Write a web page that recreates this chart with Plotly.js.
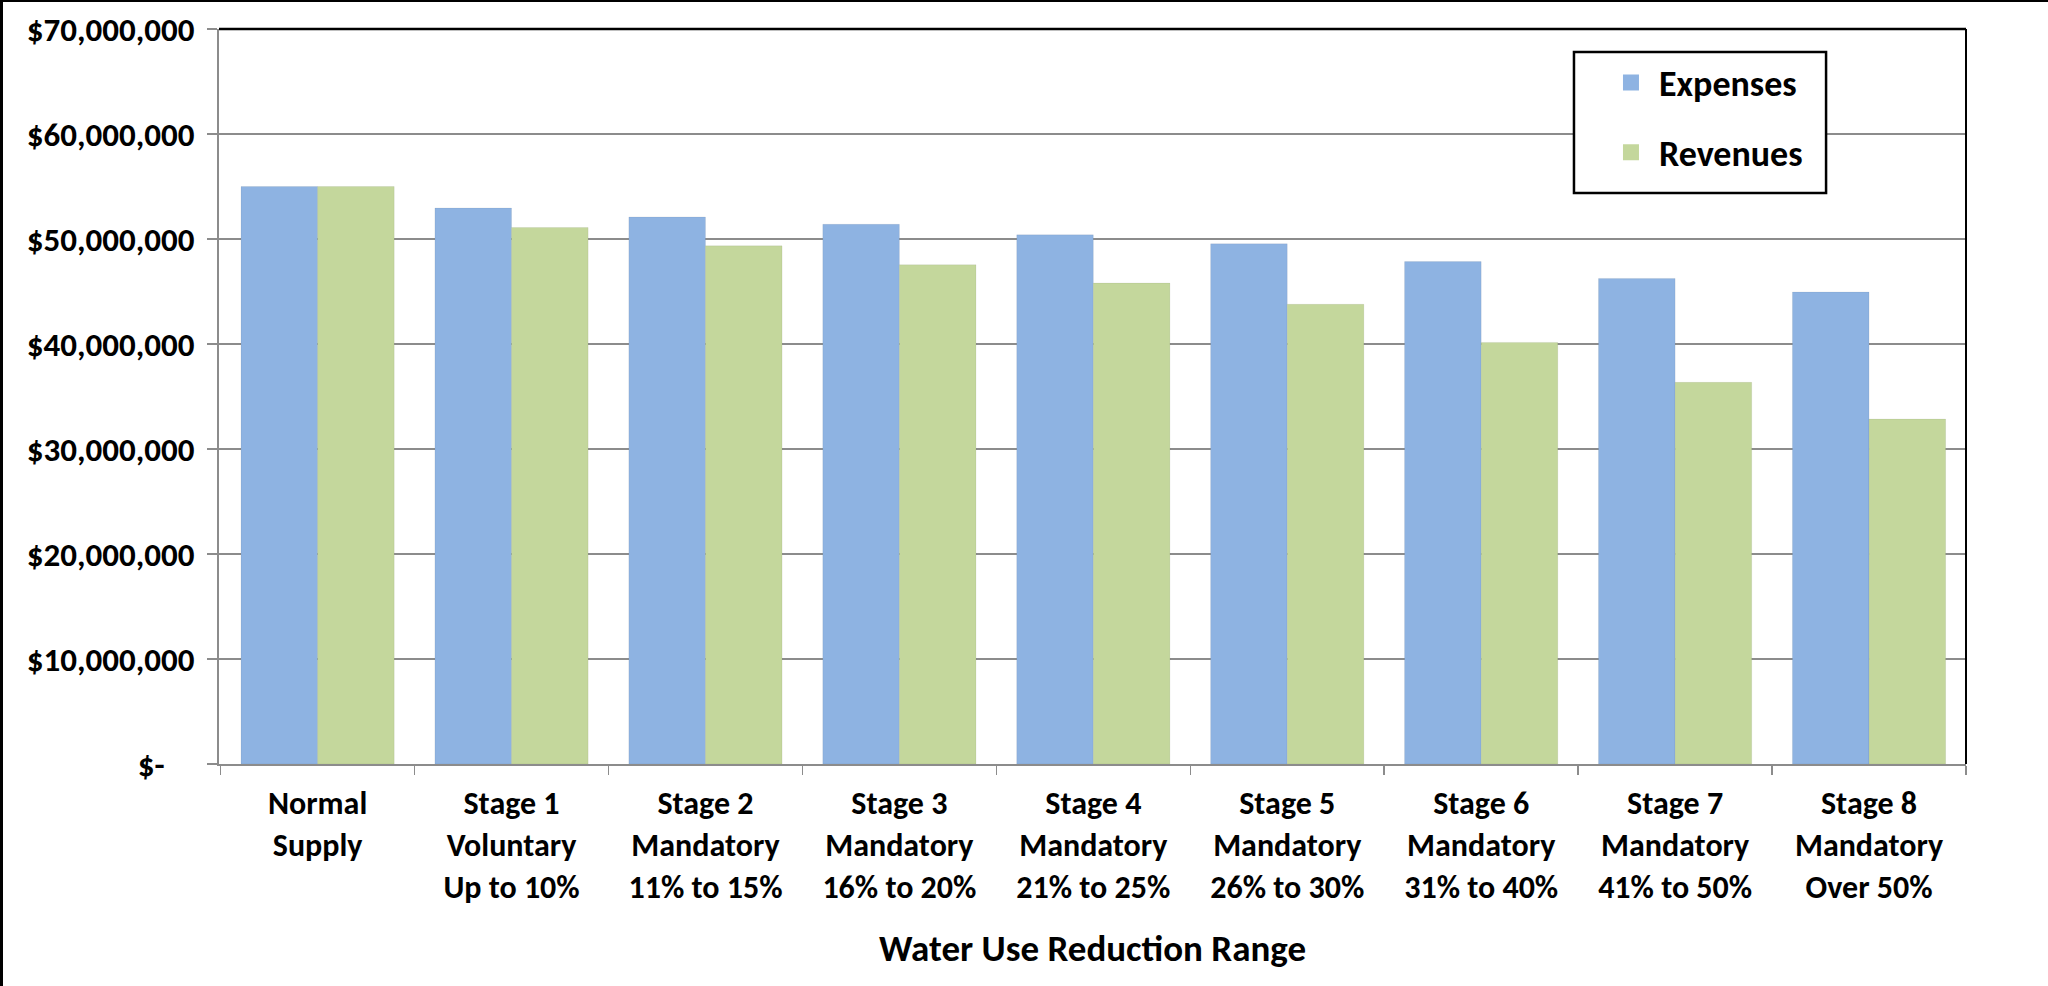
<!DOCTYPE html>
<html>
<head>
<meta charset="utf-8">
<script src="https://cdn.plot.ly/plotly-3.0.1.min.js"></script>
<style>
  html, body { margin: 0; padding: 0; background: #fff; }
  #wrap { position: relative; width: 2048px; height: 986px; }
  #chart { position: absolute; left: 0; top: 0; width: 2048px; height: 986px; }
  #frame { position: absolute; left: 0; top: 0; width: 2048px; height: 986px; box-sizing: border-box;
           border-left: 3px solid #000; border-top: 2px solid #000; pointer-events: none; }
</style>
</head>
<body>
<div id="wrap">
  <div id="chart"></div>
  <div id="frame"></div>
</div>
<script>
const categories = [
  "Normal<br>Supply",
  "Stage 1<br>Voluntary<br>Up to 10%",
  "Stage 2<br>Mandatory<br>11% to 15%",
  "Stage 3<br>Mandatory<br>16% to 20%",
  "Stage 4<br>Mandatory<br>21% to 25%",
  "Stage 5<br>Mandatory<br>26% to 30%",
  "Stage 6<br>Mandatory<br>31% to 40%",
  "Stage 7<br>Mandatory<br>41% to 50%",
  "Stage 8<br>Mandatory<br>Over 50%"
];
const expenses = [55000000, 52950000, 52100000, 51400000, 50400000, 49550000, 47850000, 46250000, 44950000];
const revenues = [55000000, 51100000, 49350000, 47550000, 45800000, 43780000, 40150000, 36350000, 32850000];
const yTickVals = [0, 10000000, 20000000, 30000000, 40000000, 50000000, 60000000, 70000000];
const yTickText = ["$-\u00a0\u00a0\u00a0\u00a0", "$10,000,000", "$20,000,000", "$30,000,000", "$40,000,000", "$50,000,000", "$60,000,000", "$70,000,000"];
const seriesNames = ["Expenses", "Revenues"];
const seriesColors = ["#8EB3E2", "#C4D79C"];
const xTitle = "Water Use Reduction Range";

const FONT = "Carlito, Lato, 'Open Sans', sans-serif";

const traces = [
  { type: "bar", name: seriesNames[0], x: categories, y: expenses, showlegend: false,
    marker: { color: seriesColors[0], line: { color: "rgba(0,0,0,0.06)", width: 1 } } },
  { type: "bar", name: seriesNames[1], x: categories, y: revenues, showlegend: false,
    marker: { color: seriesColors[1], line: { color: "rgba(0,0,0,0.06)", width: 1 } } },
  // legend entries (square swatches, no drawn points)
  { type: "scatter", mode: "markers", name: seriesNames[0], x: [categories[0]], y: [null], legendgroup: "a",
    marker: { symbol: "square", size: 18, color: seriesColors[0] }, hoverinfo: "skip" },
  { type: "scatter", mode: "markers", name: seriesNames[1], x: [categories[0]], y: [null], legendgroup: "b",
    marker: { symbol: "square", size: 18, color: seriesColors[1] }, hoverinfo: "skip" }
];

const layout = {
  width: 2048, height: 986,
  margin: { l: 219, r: 82, t: 29, b: 222 },
  paper_bgcolor: "rgba(0,0,0,0)",
  plot_bgcolor: "#fff",
  barmode: "group",
  bargap: 0.21,
  bargroupgap: 0,
  font: { family: FONT, size: 33, color: "#000", weight: 700 },
  showlegend: true,
  legend: {
    x: 0.7922, y: 0.968, xanchor: "left", yanchor: "top",
    bgcolor: "rgba(0,0,0,0)", borderwidth: 0,
    traceorder: "grouped", tracegroupgap: 20,
    itemwidth: 46, itemsizing: "trace",
    font: { family: FONT, size: 36, color: "#000", weight: 700 }
  },
  xaxis: {
    type: "category",
    tickson: "boundaries",
    ticks: "outside", ticklen: 9, tickwidth: 1.5, tickcolor: "#8c8c8c",
    showline: true, linecolor: "#8c8c8c", linewidth: 2,
    showgrid: false,
    tickfont: { family: FONT, size: 32, color: "#000", weight: 700 },
    ticklabelstandoff: 10,
    title: { text: xTitle, standoff: 30, font: { family: FONT, size: 37, color: "#000", weight: 700 } }
  },
  yaxis: {
    range: [0, 70000000],
    tickvals: yTickVals, ticktext: yTickText,
    ticks: "outside", ticklen: 10, tickwidth: 1.5, tickcolor: "#8c8c8c",
    showline: true, linecolor: "#8c8c8c", linewidth: 2,
    showgrid: true, gridcolor: "#8c8c8c", gridwidth: 2,
    zeroline: false,
    tickfont: { family: FONT, size: 33, color: "#000", weight: 700 },
    ticklabelstandoff: 6
  },
  shapes: [
    { type: "line", xref: "paper", yref: "paper", x0: 0, x1: 1, y0: 1, y1: 1, line: { color: "#000", width: 2.5 } },
    { type: "line", xref: "paper", yref: "paper", x0: 1, x1: 1, y0: 0, y1: 1, line: { color: "#000", width: 2 } },
    { type: "rect", xref: "paper", yref: "paper", x0: 0.7756, x1: 0.9199, y0: 0.777, y1: 0.9687,
      fillcolor: "#fff", line: { color: "#000", width: 2.5 }, layer: "above" }
  ]
};

Plotly.newPlot("chart", traces, layout, { displayModeBar: false, staticPlot: true });
</script>
</body>
</html>
